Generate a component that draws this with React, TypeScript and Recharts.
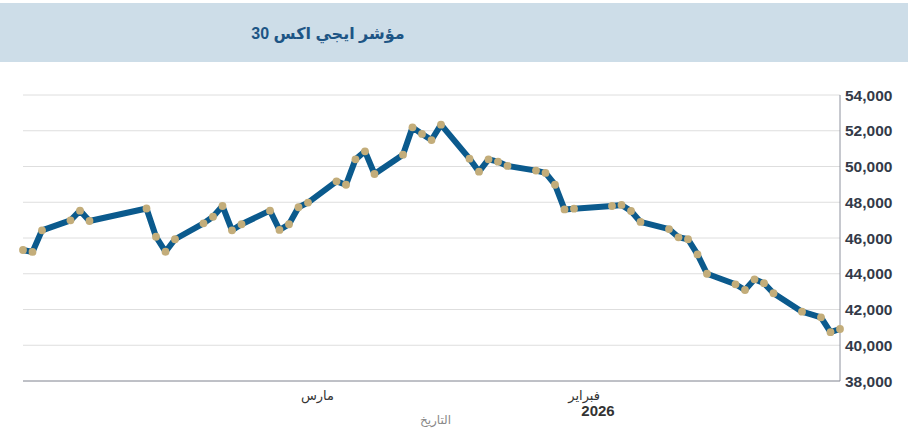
import React from "react";
import {
    LineChart,
    Line,
    XAxis,
    YAxis,
    CartesianGrid,
} from "recharts";

// trading days (the axis runs right-to-left, oldest on the right)
const dates = [
    "2026-01-04", "2026-01-05", "2026-01-06", "2026-01-08",
    "2026-01-11", "2026-01-12", "2026-01-13", "2026-01-14", "2026-01-15",
    "2026-01-18", "2026-01-19", "2026-01-20", "2026-01-21", "2026-01-22",
    "2026-01-25", "2026-01-26", "2026-01-27", "2026-01-28",
    "2026-02-01", "2026-02-02", "2026-02-03", "2026-02-04", "2026-02-05",
    "2026-02-08", "2026-02-09", "2026-02-10", "2026-02-11", "2026-02-12",
    "2026-02-15", "2026-02-16", "2026-02-17", "2026-02-18", "2026-02-19",
    "2026-02-22", "2026-02-23", "2026-02-24", "2026-02-25", "2026-02-26",
    "2026-03-01", "2026-03-02", "2026-03-03", "2026-03-04", "2026-03-05",
    "2026-03-08", "2026-03-09", "2026-03-10", "2026-03-11", "2026-03-12",
    "2026-03-15", "2026-03-16", "2026-03-17", "2026-03-18",
    "2026-03-24", "2026-03-25", "2026-03-26",
    "2026-03-29", "2026-03-30", "2026-03-31",
];

const closes = [
    40910, 40730, 41560, 41880,
    42910, 43470, 43690, 43090, 43410,
    44000, 45080, 45930, 46040, 46500,
    46900, 47510, 47850, 47790,
    47640, 47600, 48980, 49640, 49770,
    50030, 50270, 50400, 49710, 50440,
    52340, 51480, 51820, 52190, 50660,
    49580, 50850, 50400, 48980, 49170,
    47980, 47720, 46770, 46450, 47530,
    46770, 46430, 47790, 47190, 46820,
    45930, 45230, 46070, 47650,
    46950, 47530, 46990,
    46430, 45220, 45330,
];

const monthTicks = ["2026-02-01", "2026-03-01"];
const monthLabels = ["فبراير", "مارس"];
const yearLabels = ["2026", ""];
const yTicks = [38000, 40000, 42000, 44000, 46000, 48000, 50000, 52000, 54000];

const toTime = (d: string) => Date.parse(d + "T00:00:00Z");

const data = dates.map((d, i) => ({ t: toTime(d), close: closes[i] }));
const tickTimes = monthTicks.map(toTime);

const FONT = "'Liberation Sans', Arial, 'DejaVu Sans', sans-serif";

const MonthTick = (props: any) => {
    const { x, y, payload } = props;
    const idx = tickTimes.indexOf(payload.value);
    if (idx < 0) return null;
    return (
        <g>
            <text x={x + 26} y={y + 19} textAnchor="end" fontSize={13} fill="#333" fontFamily={FONT}>
                {monthLabels[idx]}
            </text>
            {yearLabels[idx] && (
                <text x={x + 24} y={y + 35} textAnchor="middle" fontSize={15} fontWeight="bold" fill="#333" fontFamily={FONT}>
                    {yearLabels[idx]}
                </text>
            )}
        </g>
    );
};

export default function App() {
    return (
        <div style={{ position: "absolute", left: 0, top: 0, width: 908, height: 439, background: "#fff", fontFamily: FONT }}>
            {/* title band */}
            <div style={{ position: "absolute", left: 0, top: 3, width: 908, height: 59, background: "#cddde8" }}>
                <div style={{ position: "absolute", left: 198, width: 260, top: 21, textAlign: "center", fontSize: 16, fontWeight: "bold", color: "#1d5585", direction: "rtl" }}>
                    مؤشر ايجي اكس 30
                </div>
            </div>

            <div style={{ position: "absolute", left: 0, top: 0 }}>
                <LineChart width={908} height={439} data={data} margin={{ top: 95, right: 8, bottom: 8, left: 23 }}>
                    <CartesianGrid vertical={false} stroke="#dedede" />
                    <XAxis
                        dataKey="t"
                        type="number"
                        scale="time"
                        domain={["dataMin", "dataMax"]}
                        reversed
                        ticks={tickTimes}
                        tick={MonthTick}
                        tickLine={false}
                        tickSize={0}
                        tickMargin={0}
                        height={50}
                        stroke="#8e929e"
                        interval={0}
                        label={{ value: "التاريخ", position: "insideBottom", offset: 7, fontSize: 12, fill: "#888", fontFamily: FONT, dx: 4 }}
                    />
                    <YAxis
                        orientation="right"
                        domain={[38000, 54000]}
                        ticks={yTicks}
                        width={60}
                        tickLine={false}
                        tickSize={0}
                        tickMargin={5}
                        stroke="#8e929e"
                        tick={{ fontSize: 15.5, fontWeight: "bold", fill: "#333a48", fontFamily: FONT }}
                        tickFormatter={(v: number) => v.toLocaleString("en-US")}
                        interval={0}
                    />
                    <Line
                        type="linear"
                        dataKey="close"
                        stroke="#0b5a8d"
                        strokeWidth={6}
                        strokeLinejoin="round"
                        dot={{ r: 3.9, fill: "#c3ad7a", stroke: "none", strokeWidth: 0 }}
                        activeDot={false}
                        isAnimationActive={false}
                    />
                </LineChart>
            </div>
        </div>
    );
}
